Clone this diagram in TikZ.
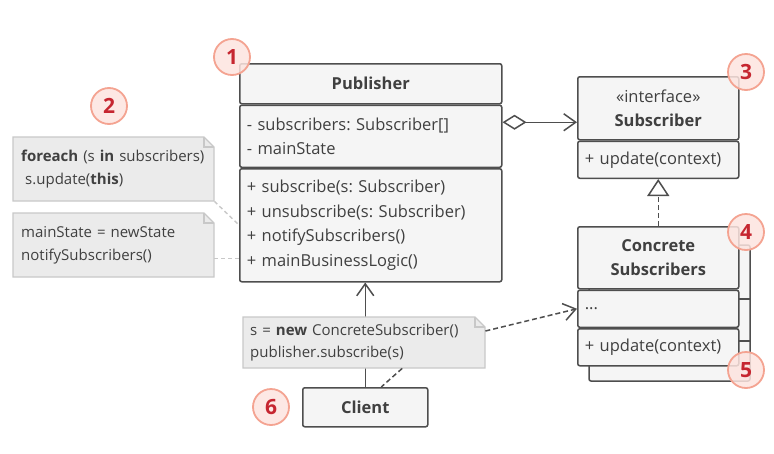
\documentclass[tikz,border=0pt]{standalone}
\usepackage{fontspec}
\setmainfont{Open Sans}
\usepackage{xcolor}
\usetikzlibrary{arrows.meta, calc}
\frenchspacing
\definecolor{boxline}{HTML}{4E4E4E}
\definecolor{boxfill}{HTML}{F5F5F5}
\definecolor{ink}{HTML}{404040}
\definecolor{notefill}{HTML}{EBEBEB}
\definecolor{notedraw}{HTML}{C8C8C8}
\definecolor{markerring}{HTML}{F4A391}
\definecolor{markerfill}{HTML}{FDE4DF}
\definecolor{markerink}{HTML}{C62630}
\newcommand{\umlfont}{\fontsize{16.5}{24.6}\selectfont}
\newcommand{\notefont}{\fontsize{15}{23.5}\selectfont}
\tikzstyle{umlbox}=[draw=boxline, fill=boxfill, rounded corners=2pt, line width=1.5pt, inner xsep=7pt, inner ysep=0pt, anchor=north west, text=ink, font=\umlfont]
\tikzstyle{backbox}=[draw=boxline, fill=boxfill, rounded corners=2pt, line width=1.5pt]
\tikzstyle{umlline}=[draw=boxline, line width=1.5pt]
\tikzstyle{dashline}=[dash pattern=on 5pt off 3pt]
\tikzstyle{noteshape}=[draw=notedraw, fill=notefill, line width=1.4pt]
\tikzstyle{notebox}=[inner xsep=8pt, inner ysep=0pt, anchor=north west, align=left, text=ink, font=\notefont]
\tikzstyle{notelink}=[draw=notedraw, line width=1.4pt, dash pattern=on 4pt off 3pt]
\tikzstyle{marker}=[circle, draw=markerring, fill=markerfill, fill opacity=.85, text opacity=1, line width=1.8pt, minimum size=36pt, inner sep=0pt, text=markerink, font=\fontsize{21}{21}\selectfont\bfseries]

\begin{document}
\begin{tikzpicture}[x=1pt, y=-1pt, >={Straight Barb[length=12pt, width=17pt]}]
	\useasboundingbox (0,0) rectangle (774,453);

	\draw[backbox] (589,245) rectangle (750,381);
	\draw[umlline] (738,299) -- (750,299) (738,341) -- (750,341);

	\node[umlbox, text width=248pt, minimum height=40pt, align=center, font=\umlfont\bfseries] (pubT) at (239,63) {Publisher};
	\node[umlbox, text width=248pt, minimum height=62pt, align=left] (pubA) at (pubT.south west) {- subscribers: Subscriber[]\\- mainState};
	\node[umlbox, text width=248pt, minimum height=113pt, align=left] (pubM) at (pubA.south west) {+ subscribe(s: Subscriber)\\+ unsubscribe(s: Subscriber)\\+ notifySubscribers()\\+ mainBusinessLogic()};

	\node[umlbox, text width=147pt, minimum height=63pt, align=center] (subT) at (577,76) {«interface»\\\textbf{Subscriber}};
	\node[umlbox, text width=147pt, minimum height=37pt, align=left] (subM) at (subT.south west) {+ update(context)};

	\node[umlbox, text width=147pt, minimum height=62pt, align=center, font=\umlfont\bfseries] (conT) at (577,226) {Concrete\\Subscribers};
	\node[umlbox, text width=147pt, minimum height=37pt, align=left] (conA) at (conT.south west) {...};
	\node[umlbox, text width=147pt, minimum height=37pt, align=left] (conM) at (conA.south west) {+ update(context)};

	\node[umlbox, minimum width=125pt, minimum height=39pt, font=\umlfont\bfseries] (cli) at (302,387) {Client};

	\coordinate (agg) at ($(pubA.east)+(0,-14)$);
	\draw[umlline, {Diamond[length=24pt, width=15pt, fill=white]}->] (agg) -- (agg -| subT.west);
	\draw[umlline, dashline, -{Triangle[length=17pt, width=22pt, fill=white]}] (conT.north) -- (subM.south);
	\draw[umlline, ->] (cli.north) -- (cli.north |- pubM.south);

	\foreach \x/\y/\w/\h in {13/137/201/64, 13/213/201/64, 243/317/242/51} {
		\draw[noteshape] (\x,\y) -- (\x+\w-10,\y) -- (\x+\w,\y+10) -- (\x+\w,\y+\h) -- (\x,\y+\h) -- cycle;
		\draw[noteshape, fill=none] (\x+\w-10,\y) |- (\x+\w,\y+10);
	}
	\node[notebox, text width=185pt, minimum height=64pt] (n1) at (13,137) {\textbf{foreach} (s \textbf{in} subscribers)\\\hspace*{4pt}s.update(\textbf{this})};
	\node[notebox, text width=185pt, minimum height=64pt] (n2) at (13,213) {mainState = newState\\notifySubscribers()};
	\node[notebox, inner xsep=7pt, text width=228pt, minimum height=51pt, font=\fontsize{15}{21.6}\selectfont] (n3) at (243,317) {s = \textbf{new} ConcreteSubscriber()\\publisher.subscribe(s)};

	\draw[notelink] (n1.south east) -- ($(pubM.north west)+(0,57)$);
	\coordinate (m2) at ($(n2.south east)+(0,-19)$);
	\draw[notelink] (m2) -- (m2 -| pubM.west);
	\draw[umlline, dashline] ($(n3.south)+(38,0)$) -- ($(cli.north)+(16,0)$);
	\draw[umlline, dashline, ->] ($(n3.north east)+(0,14)$) -- (conA.west);

	\node[marker] (c1) at (232,57) {1};
	\node[marker] (c2) at (109,106) {2};
	\node[marker] (c3) at (746,72) {3};
	\node[marker] (c4) at (746,232) {4};
	\node[marker] (c5) at (746,370) {5};
	\node[marker] (c6) at (271,407) {6};
\end{tikzpicture}
\end{document}
